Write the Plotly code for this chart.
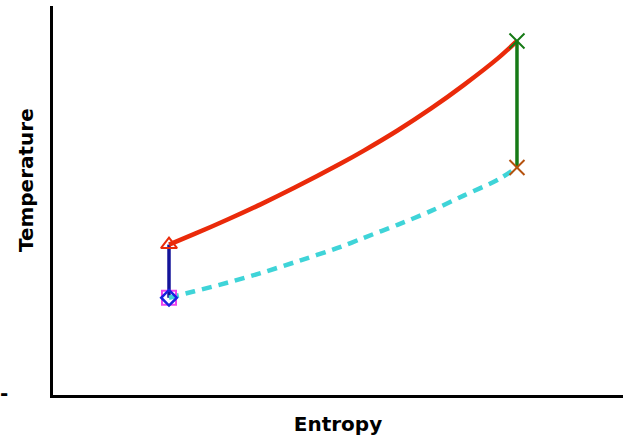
import plotly.graph_objects as go

# Entropy (arbitrary units) and temperature (K)
s_heat = [1.00, 1.22, 1.51, 1.79, 2.08, 2.48, 2.68, 2.97, 3.26, 3.54, 3.84, 4.00]
T_heat = [464, 497, 542, 588, 639, 714, 754, 816, 884, 956, 1040, 1092]

s_cool = [1.00, 1.22, 1.51, 1.79, 2.08, 2.48, 2.68, 2.97, 3.26, 3.54, 3.84, 4.00]
T_cool = [300, 320, 347, 376, 409, 457, 485, 525, 568, 615, 665, 702]

s_comp = [1.00, 1.00]
T_comp = [300, 464]

s_exp = [4.00, 4.00]
T_exp = [1092, 702]

fig = go.Figure()

# compression (1 -> 2)
fig.add_trace(go.Scatter(x=s_comp, y=T_comp, mode="lines",
                         line=dict(color="#14149a", width=3.5), showlegend=False))
# heat addition (2 -> 3)
fig.add_trace(go.Scatter(x=s_heat, y=T_heat, mode="lines",
                         line=dict(color="#ea2a0a", width=4.5, shape="spline", smoothing=0.8),
                         showlegend=False))
# expansion (3 -> 4)
fig.add_trace(go.Scatter(x=s_exp, y=T_exp, mode="lines",
                         line=dict(color="#167a16", width=3.5), showlegend=False))
# heat rejection (4 -> 1)
fig.add_trace(go.Scatter(x=s_cool, y=T_cool, mode="lines",
                         line=dict(color="#3fd4d8", width=4.5, dash="10px,7px",
                                   shape="spline", smoothing=0.8),
                         showlegend=False))

# state point markers
fig.add_trace(go.Scatter(x=[s_comp[0]], y=[T_comp[0]], mode="markers",
                         marker=dict(symbol="square-open", size=14, color="#ee44ee",
                                     line=dict(width=2)), showlegend=False))
fig.add_trace(go.Scatter(x=[s_comp[0]], y=[T_comp[0]], mode="markers",
                         marker=dict(symbol="diamond-open", size=12, color="#1a22e0",
                                     line=dict(width=2.5)), showlegend=False))
fig.add_trace(go.Scatter(x=[s_comp[1]], y=[T_comp[1]], mode="markers",
                         marker=dict(symbol="triangle-up-open", size=14, color="#ea2a0a",
                                     line=dict(width=2)), showlegend=False))
fig.add_trace(go.Scatter(x=[s_exp[0]], y=[T_exp[0]], mode="markers",
                         marker=dict(symbol="x-thin-open", size=15, color="#167a16",
                                     line=dict(width=2)), showlegend=False))
fig.add_trace(go.Scatter(x=[s_exp[1]], y=[T_exp[1]], mode="markers",
                         marker=dict(symbol="x-thin-open", size=15, color="#b5520e",
                                     line=dict(width=2)), showlegend=False))

axis_common = dict(showline=True, linecolor="black", linewidth=3, showgrid=False,
                   zeroline=False, showticklabels=False, ticks="")

fig.update_layout(
    width=623, height=444,
    margin=dict(l=53, r=0, t=6, b=49),
    paper_bgcolor="white", plot_bgcolor="white",
    font=dict(family="DejaVu Sans", color="black"),
    xaxis=dict(range=[0, 4.914], **axis_common,
               title=dict(text="<b>Entropy</b>", font=dict(size=20), standoff=20)),
    yaxis=dict(range=[0, 1200], **axis_common),
    annotations=[
        dict(text="<b>Temperature</b>", xref="paper", yref="paper", x=-0.047, y=0.553,
             textangle=-90, showarrow=False, font=dict(size=20),
             xanchor="center", yanchor="middle"),
        dict(text="<b>-</b>", xref="paper", yref="paper", x=-0.097, y=0.006,
             showarrow=False, font=dict(size=20), xanchor="left", yanchor="middle"),
    ],
)

fig.write_html("out.html", config={"displayModeBar": False},
               post_script="document.body.style.margin='0';document.body.style.overflow='hidden';")
